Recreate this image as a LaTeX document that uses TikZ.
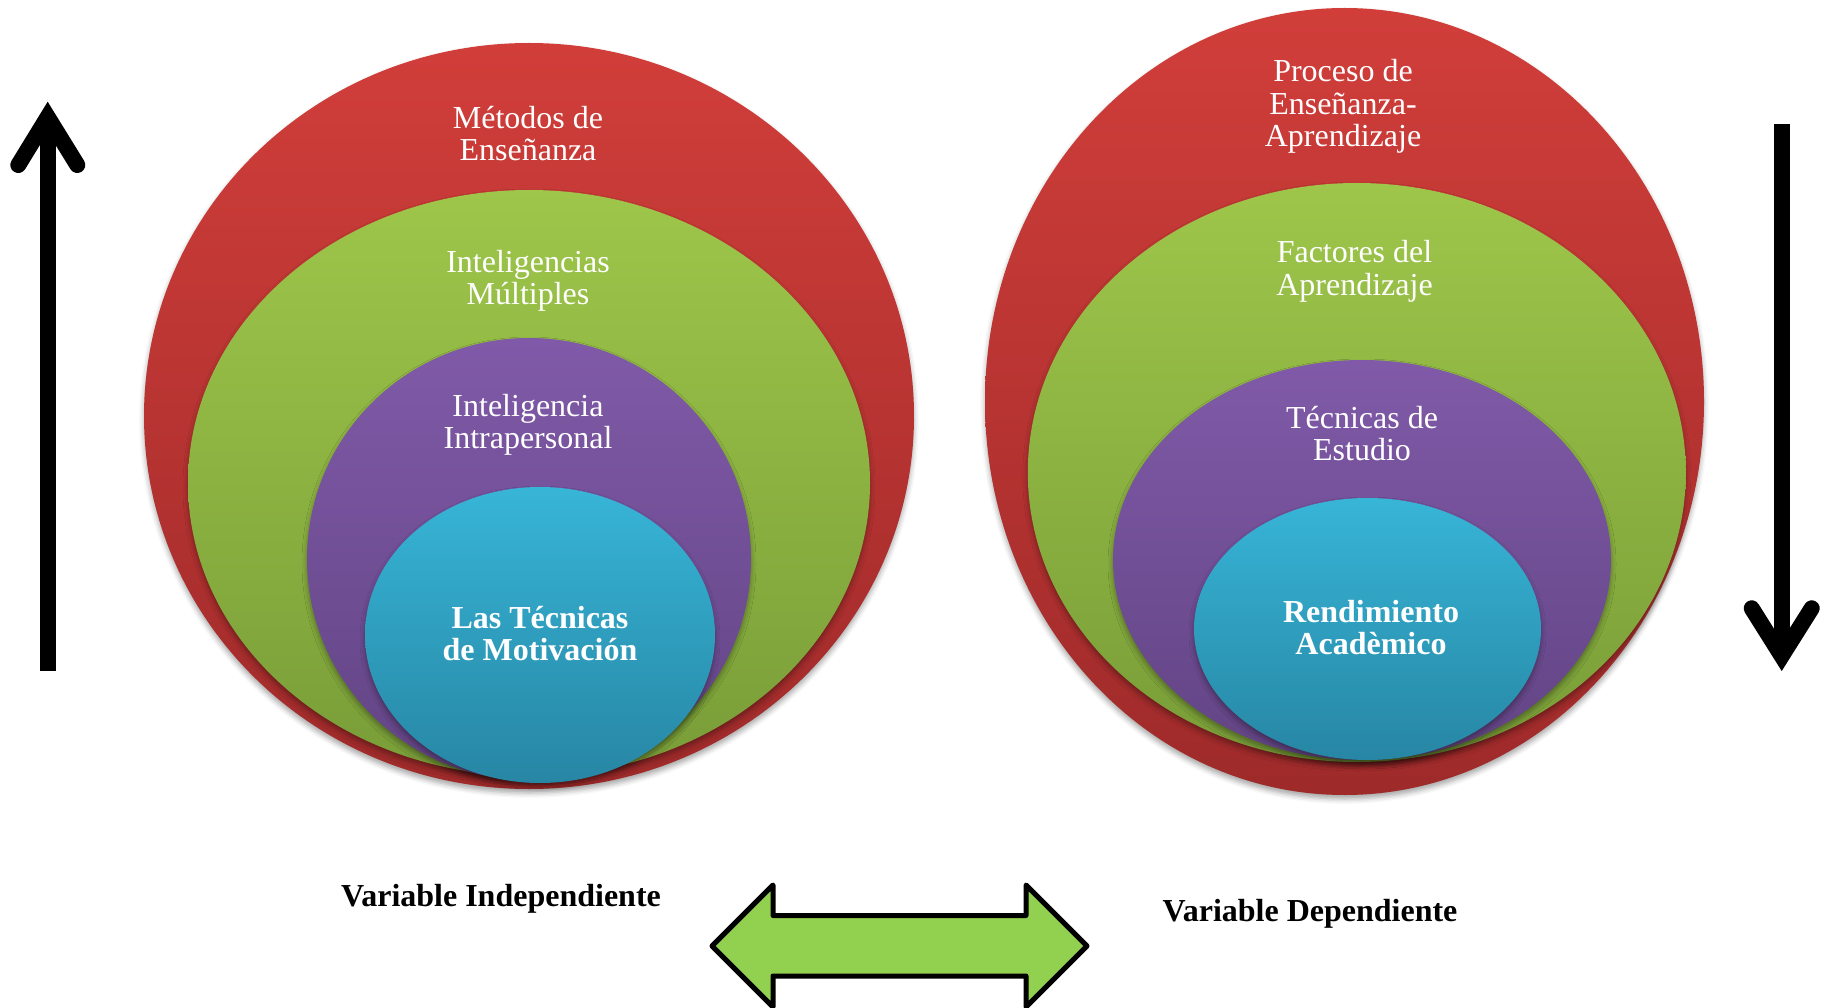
\documentclass[tikz,border=0pt]{standalone}
\usepackage{fontspec}
\setmainfont{Liberation Serif}
\usetikzlibrary{shapes.geometric,shadows.blur}
\newcommand\mylines[1]{\begin{tabular}[t]{@{}c@{}}#1\end{tabular}}
\definecolor{rT}{RGB}{209,62,58}
\definecolor{rB}{RGB}{158,42,42}
\definecolor{gT}{RGB}{158,198,74}
\definecolor{gB}{RGB}{121,157,56}
\definecolor{pT}{RGB}{128,90,168}
\definecolor{pB}{RGB}{98,68,132}
\definecolor{cT}{RGB}{55,181,215}
\definecolor{cB}{RGB}{39,134,164}
\definecolor{arrowgreen}{RGB}{146,208,80}
\tikzset{
  ring/.style={ellipse, inner sep=0pt, draw=none,
    blur shadow={shadow xshift=0pt, shadow yshift=-4pt, shadow blur radius=5pt, shadow opacity=35}},
  redring/.style={ring, top color=rT, bottom color=rB},
  greenring/.style={ring, top color=gT, bottom color=gB},
  purplering/.style={ring, top color=pT, bottom color=pB},
  cyanring/.style={ring, top color=cT, bottom color=cB},
  lbl/.style={anchor=base, inner sep=0pt, text=white, font=\fontsize{32}{32.3}\selectfont},
  lblb/.style={anchor=base, inner sep=0pt, text=white, font=\fontsize{32}{32.3}\selectfont\bfseries},
  vlabel/.style={anchor=base, inner sep=0pt, text=black, font=\fontsize{32}{32}\selectfont\bfseries},
  thickarrow/.style={line width=16pt, black},
  chevron/.style={line width=16pt, black, line cap=round, line join=miter},
  dblarrow/.style={fill=arrowgreen, draw=black, line width=5pt, line join=round}
}
\begin{document}
\begin{tikzpicture}[x=1pt,y=1pt]
\useasboundingbox (0,-1008) rectangle (1826,0);
% left set
\node[redring, minimum width=770pt, minimum height=746pt] (redL) at (529,-416) {};
\node[greenring, minimum width=682pt, minimum height=586pt] (greenL) at (529,-483) {};
\node[purplering, minimum width=444pt, minimum height=442pt] (purpleL) at (529,-559) {};
\node[cyanring, minimum width=350pt, minimum height=296pt] (cyanL) at (540,-635) {};
\node[lbl] (t1) at (528,-128.5) {\mylines{Métodos de\\Enseñanza}};
\node[lbl] (t2) at (528,-272.5) {\mylines{Inteligencias\\Múltiples}};
\node[lbl] (t3) at (528,-416) {\mylines{Inteligencia\\Intrapersonal}};
\node[lblb] (t4) at (540,-628.5) {\mylines{Las Técnicas\\de Motivación}};
% right set
\node[redring, minimum width=719pt, minimum height=787pt] (redR) at (1344.5,-401.5) {};
\node[greenring, minimum width=658pt, minimum height=579pt] (greenR) at (1356.8,-472.5) {};
\node[purplering, minimum width=498pt, minimum height=400pt] (purpleR) at (1362,-560) {};
\node[cyanring, minimum width=347pt, minimum height=262pt] (cyanR) at (1367.5,-629) {};
\node[lbl] (t5) at (1343,-82) {\mylines{Proceso de\\Enseñanza-\\Aprendizaje}};
\node[lbl] (t6) at (1354.5,-263) {\mylines{Factores del\\Aprendizaje}};
\node[lbl] (t7) at (1362,-428) {\mylines{Técnicas de\\Estudio}};
\node[lblb] (t8) at (1371,-622) {\mylines{Rendimiento\\Acadèmico}};
% labels
\node[vlabel] (vi) at (501,-906) {Variable Independiente};
\node[vlabel] (vd) at (1310,-921) {Variable Dependiente};
% up arrow
\coordinate (upbot) at (47.7,-671);
\coordinate (uptip) at (47.7,-117);
\coordinate (upl) at (18.3,-165);
\coordinate (upr) at (77.3,-165);
\draw[thickarrow] (upbot) -- (uptip);
\draw[chevron] (upl) -- (uptip) -- (upr);
% down arrow
\coordinate (dntop) at (1781.7,-124);
\coordinate (dntip) at (1781.7,-656);
\coordinate (dnl) at (1751.7,-608.3);
\coordinate (dnr) at (1811.7,-608.3);
\draw[thickarrow] (dntop) -- (dntip);
\draw[chevron] (dnl) -- (dntip) -- (dnr);
% double arrow
\draw[dblarrow] (712,-946) -- (773,-885) -- (773,-915.5) -- (1026,-915.5) -- (1026,-885)
  -- (1087,-946) -- (1026,-1007) -- (1026,-976) -- (773,-976) -- (773,-1007) -- cycle;
\end{tikzpicture}
\end{document}
